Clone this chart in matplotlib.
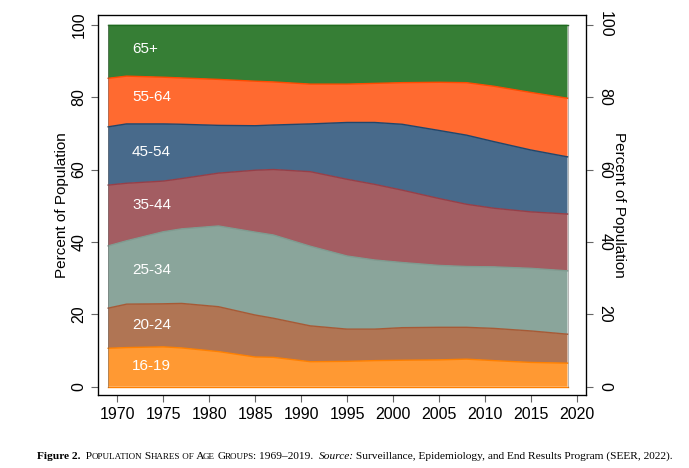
import numpy as np
import matplotlib
matplotlib.use('Agg')
import matplotlib.pyplot as plt

# shares of population by age group (percent)
years = [1969, 1971, 1975, 1977, 1981, 1985, 1987, 1991, 1995, 1998, 2001, 2005, 2008, 2011, 2015, 2019]
age_16_19 = [10.6, 10.8, 11.0, 10.7, 9.7, 8.2, 8.1, 6.9, 7.0, 7.2, 7.3, 7.4, 7.6, 7.2, 6.7, 6.5]
age_20_24 = [11.1, 12.0, 11.9, 12.3, 12.4, 11.6, 10.8, 9.9, 8.9, 8.7, 9.0, 9.0, 8.8, 8.9, 8.7, 8.0]
age_25_34 = [17.2, 17.5, 19.9, 20.6, 22.3, 22.9, 23.0, 22.0, 20.2, 19.1, 18.0, 17.1, 16.8, 17.0, 17.3, 17.5]
age_35_44 = [16.8, 15.9, 14.0, 13.9, 14.6, 17.1, 18.1, 20.6, 21.2, 20.9, 20.0, 18.5, 17.2, 16.2, 15.6, 15.7]
age_45_54 = [16.1, 16.4, 15.8, 15.0, 13.2, 12.3, 12.3, 13.2, 15.7, 17.1, 18.2, 18.8, 19.1, 18.4, 17.1, 15.8]
age_55_64 = [13.4, 13.2, 12.9, 12.8, 12.7, 12.3, 11.9, 11.0, 10.6, 10.8, 11.5, 13.3, 14.5, 15.3, 15.9, 16.2]
age_65_up = [14.8, 14.2, 14.5, 14.7, 15.1, 15.6, 15.8, 16.4, 16.4, 16.2, 16.0, 15.9, 16.0, 17.0, 18.7, 20.3]

groups = ['16-19', '20-24', '25-34', '35-44', '45-54', '55-64', '65+']
fills = ['#ff9933', '#b07554', '#8aa59b', '#a35d62', '#486a8b', '#ff6a30', '#367e35']
edges = ['#ff8000', '#a65a36', '#7f9b90', '#963f48', '#21466b', '#ff4a00', '#1f6a1f']
label_y = [5.7, 17.0, 32.2, 50.2, 64.8, 80.0, 93.3]

plt.rcParams['font.family'] = ['Liberation Sans', 'DejaVu Sans']

fig = plt.figure(figsize=(6.89, 4.68), dpi=100)
ax = fig.add_axes([0.1427, 0.156, 0.7074, 0.812])

series = np.array([age_16_19, age_20_24, age_25_34, age_35_44, age_45_54, age_55_64, age_65_up])
tops = np.cumsum(series, axis=0)
bottom = np.zeros(len(years))
for i in range(len(groups)):
    ax.fill_between(years, bottom, tops[i], facecolor=fills[i], edgecolor='none', zorder=2)
    ax.plot(years, tops[i], color=edges[i], lw=1.0, zorder=3)
    bottom = tops[i]
ax.plot(years, np.zeros(len(years)), color=edges[0], lw=1.0, zorder=3)
ax.plot([years[0]] * 2, [0, 100], color='#555555', lw=0.6, alpha=0.5, zorder=3)
ax.plot([years[-1]] * 2, [0, 100], color='#555555', lw=0.6, alpha=0.5, zorder=3)

for g, y in zip(groups, label_y):
    ax.text(1971.6, y, g, color='white', fontsize=11, va='center', ha='left', zorder=4)

ax.set_xlim(1967.93, 2020.98)
ax.set_ylim(-2.3, 102.7)
ax.set_xticks(range(1970, 2021, 5))
ax.set_yticks(range(0, 101, 20))
ax.tick_params(axis='both', direction='out', length=5, width=0.8, color='#666666', labelsize=11.5)
ax.tick_params(axis='y', labelrotation=90)
for lbl in ax.get_yticklabels():
    lbl.set_va('center')
ax.set_ylabel('Percent of Population', fontsize=11, labelpad=2)
for s in ax.spines.values():
    s.set_linewidth(0.9)
    s.set_color('black')

ax2 = ax.twinx()
ax2.set_ylim(ax.get_ylim())
ax2.set_yticks(range(0, 101, 20))
ax2.tick_params(axis='y', direction='out', length=5, width=0.8, color='#666666', labelsize=11.5, labelrotation=270)
for lbl in ax2.get_yticklabels():
    lbl.set_va('center')
ax2.set_ylabel('Percent of Population', fontsize=11, rotation=270, labelpad=10)


# caption with mixed styles, laid out piece by piece
def caption(parts, x, y):
    fig.canvas.draw()
    r = fig.canvas.get_renderer()
    for txt, size, kw in parts:
        if not txt.startswith(' ') and x > 0.06:
            x -= 1.0 / fig.bbox.width
        t = fig.text(x, y, txt, fontsize=size, family='Liberation Serif', va='baseline', **kw)
        bb = t.get_window_extent(renderer=r)
        x = bb.x1 / fig.bbox.width


big, small = 8.2, 6.5
parts = [('Figure 2.', big, {'weight': 'bold'}), ('  P', big, {}), ('OPULATION', small, {}),
         (' S', big, {}), ('HARES', small, {}), (' OF', small, {}), (' A', big, {}), ('GE', small, {}),
         (' G', big, {}), ('ROUPS', small, {}), (': 1969\u20132019.  ', big, {}),
         ('Source:', big, {'style': 'italic'}),
         (' Surveillance, Epidemiology, and End Results Program (SEER, 2022).', big, {})]
caption(parts, 37 / 689, 1 - 459 / 468)

fig.savefig('out.png', dpi=100)
